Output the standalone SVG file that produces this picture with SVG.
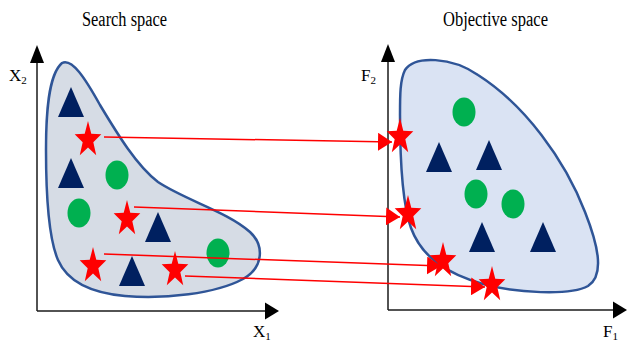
<svg xmlns="http://www.w3.org/2000/svg" xmlns:xlink="http://www.w3.org/1999/xlink" width="627" height="343" viewBox="0 0 627 343">
<style>
.title{font-family:"Liberation Serif","Times New Roman",serif;font-size:20px;fill:#000}
.lab{font-family:"Liberation Serif","Times New Roman",serif;font-size:17px;fill:#000}
.sub{font-size:11px}
.axis{stroke:#1a1a1a;stroke-width:1.5;fill:none}
.head{fill:#000}
.blob{stroke:#2F5597;stroke-width:2.5}
.tri{fill:#002060}
.dot{fill:#00B050}
.star{fill:#FF0000}
.conn{stroke:#FF0000;stroke-width:1.5;fill:none;marker-end:url(#ah)}
</style>
<defs>
<marker id="ah" markerUnits="userSpaceOnUse" markerWidth="14" markerHeight="18" refX="14" refY="9" orient="auto">
<path d="M0,0 L14,9 L0,18 Z" fill="#FF0000"/>
</marker>
<path id="T" d="M0,0 L13,30 L-13,30 Z"/>
<ellipse id="C" cx="0" cy="0" rx="11.5" ry="14.5"/>
<path id="S" d="M0,-19 L3.29,-6.16 L13.31,-5.87 L5.32,2.36 L8.23,15.37 L0,7.6 L-8.23,15.37 L-5.32,2.36 L-13.31,-5.87 L-3.29,-6.16 Z"/>
</defs>

<!-- titles -->
<text class="title" x="82" y="26" textLength="85" lengthAdjust="spacingAndGlyphs">Search space</text>
<text class="title" x="443" y="26" textLength="105" lengthAdjust="spacingAndGlyphs">Objective space</text>

<!-- left axes -->
<g id="axes-left">
<line class="axis" x1="37" y1="311" x2="37" y2="60"/>
<polygon class="head" points="37,45 30,63 44,63"/>
<line class="axis" x1="37" y1="311" x2="266" y2="311"/>
<polygon class="head" points="279,311 265,302.5 265,319.5"/>
<text class="lab" x="9" y="81">X<tspan class="sub" dy="3">2</tspan></text>
<text class="lab" x="253" y="337">X<tspan class="sub" dy="3">1</tspan></text>
</g>

<!-- right axes -->
<g id="axes-right">
<line class="axis" x1="388" y1="310" x2="388" y2="60"/>
<polygon class="head" points="388,44 381,62 395,62"/>
<line class="axis" x1="388" y1="310" x2="615" y2="310"/>
<polygon class="head" points="627,310 613,301.5 613,318.5"/>
<text class="lab" x="361" y="81">F<tspan class="sub" dy="3">2</tspan></text>
<text class="lab" x="603" y="337">F<tspan class="sub" dy="3">1</tspan></text>
</g>

<!-- regions -->
<g id="search-region">
<path class="blob" fill="#D6DCE5" d="M62,63 C72,58 85,78 100,105 C118,135 137,166 158,182 C185,200 228,212 250,232 C265,246 263,268 243,279 C215,294 165,299 125,296 C92,293 68,283 58,260 C48,237 46,190 46,150 C46,115 48,75 62,63 Z"/>
</g>
<g id="objective-region">
<path class="blob" fill="#DAE3F3" d="M405,70 C415,55 452,57 478,75 C525,105 565,160 585,212 C598,245 605,275 588,286 C570,296 515,293 483,284 C448,274 422,258 411,228 C402,203 400,150 400,115 C400,95 400,80 405,70 Z"/>
</g>

<!-- search space points -->
<g id="s-tri1"><use xlink:href="#T" class="tri" x="71" y="87"/></g>
<g id="s-tri2"><use xlink:href="#T" class="tri" x="71" y="158"/></g>
<g id="s-tri3"><use xlink:href="#T" class="tri" x="158" y="212"/></g>
<g id="s-tri4"><use xlink:href="#T" class="tri" x="132" y="256"/></g>
<g id="s-dot1"><use xlink:href="#C" class="dot" x="117" y="175"/></g>
<g id="s-dot2"><use xlink:href="#C" class="dot" x="79" y="213"/></g>
<g id="s-dot3"><use xlink:href="#C" class="dot" x="218" y="253"/></g>
<g id="s-star1"><use xlink:href="#S" class="star" x="88" y="140"/></g>
<g id="s-star2"><use xlink:href="#S" class="star" x="127" y="219"/></g>
<g id="s-star3"><use xlink:href="#S" class="star" x="93" y="266"/></g>
<g id="s-star4"><use xlink:href="#S" class="star" x="175" y="270"/></g>

<!-- objective space points -->
<g id="o-tri1"><use xlink:href="#T" class="tri" x="439" y="142"/></g>
<g id="o-tri2"><use xlink:href="#T" class="tri" x="489" y="140"/></g>
<g id="o-tri3"><use xlink:href="#T" class="tri" x="482" y="222"/></g>
<g id="o-tri4"><use xlink:href="#T" class="tri" x="543" y="222"/></g>
<g id="o-dot1"><use xlink:href="#C" class="dot" x="464" y="112"/></g>
<g id="o-dot2"><use xlink:href="#C" class="dot" x="476" y="194"/></g>
<g id="o-dot3"><use xlink:href="#C" class="dot" x="513" y="204"/></g>
<g id="o-star1"><use xlink:href="#S" class="star" x="400" y="137"/></g>
<g id="o-star2"><use xlink:href="#S" class="star" x="408" y="214"/></g>
<g id="o-star3"><use xlink:href="#S" class="star" x="443" y="261"/></g>
<g id="o-star4"><use xlink:href="#S" class="star" x="492" y="285"/></g>

<!-- connectors -->
<g id="connectors">
<line class="conn" x1="104" y1="137" x2="392" y2="142"/>
<line class="conn" x1="134" y1="207" x2="400" y2="217"/>
<line class="conn" x1="104" y1="254" x2="441" y2="266"/>
<line class="conn" x1="185" y1="276" x2="485" y2="287"/>
</g>
</svg>
